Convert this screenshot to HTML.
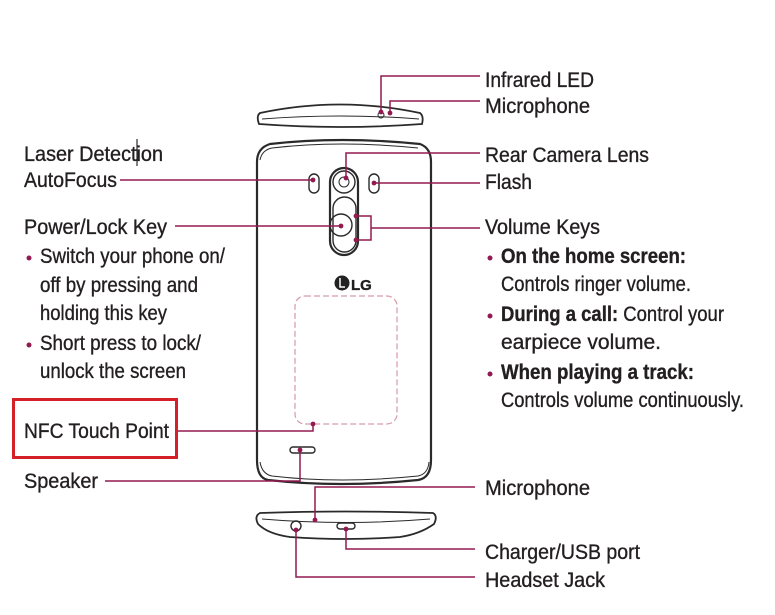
<!DOCTYPE html>
<html><head><meta charset="utf-8"><style>
html,body{margin:0;padding:0;background:#fff;}
svg{display:block;}
text{font-family:"Liberation Sans Narrow","Liberation Sans",sans-serif;fill:#231f20;font-size:21px;stroke:#231f20;stroke-width:0.35;}
.b{font-weight:bold;}
</style></head><body>
<svg width="775" height="615" viewBox="0 0 775 615" xmlns="http://www.w3.org/2000/svg">
<g fill="none" stroke="#2a2a2a" stroke-width="1.8">
<path d="M260 113 Q340 96 420 113 Q424 116 422 124 Q340 130 259 124 Q256 116 260 113 Z"/>
<path d="M262 119 Q340 113 419 119" stroke-width="1"/>
<circle cx="381" cy="115" r="3" stroke-width="1"/>
<path d="M270 144 Q340 136 420 144 Q431 148 431 162 L431 460 Q431 478 418 480 Q340 488 268 480 Q257 478 257 460 L257 162 Q257 148 270 144 Z" stroke-width="2.2"/>
<path d="M260 160 Q262 150 272 148 Q340 140 418 148" stroke-width="1"/>
<path d="M260 462 Q262 474 272 476 Q340 484 418 476 Q428 474 429 462" stroke-width="1"/>
<rect x="309" y="174" width="10" height="19" rx="5" stroke-width="1.4"/>
<rect x="369" y="174" width="10" height="19" rx="5" stroke-width="1.4"/>
<rect x="330" y="168" width="28" height="87" rx="14" stroke-width="2.2"/>
<circle cx="344" cy="182" r="11" stroke-width="1.4"/>
<circle cx="344" cy="182" r="5" stroke-width="1"/>
<rect x="333" y="197" width="23" height="55" rx="11.5" stroke-width="1.4"/>
<circle cx="341" cy="225" r="11" stroke-width="1.4"/>
<rect x="295" y="296" width="102" height="128" rx="10" stroke="#d49aa8" stroke-dasharray="6 3" stroke-width="1.2"/>
<rect x="290" y="447" width="25" height="6" rx="3" stroke-width="1.4"/>
<path d="M260 513 Q345 510 433 513 Q438 516 434 524 Q420 534 400 537 Q345 541 290 537 Q268 534 258 524 Q254 516 260 513 Z"/>
<path d="M262 519 Q345 526 430 519" stroke-width="1"/>
<circle cx="296" cy="526" r="5" stroke-width="1.4"/>
<rect x="337" y="523" width="18" height="6" rx="3" stroke-width="1.4"/>
</g>
<circle cx="342" cy="283" r="7.5" fill="#222"/>
<path d="M340 278 L340 287 L345 287" fill="none" stroke="#fff" stroke-width="1.5"/>
<text x="351" y="290" style="font-family:'Liberation Sans',sans-serif;font-weight:bold;font-size:15px">LG</text>
<g fill="none" stroke="#931a50" stroke-width="1.5">
<polyline points="480,76 381,76 381,112"/>
<polyline points="480,101 390,101 390,113"/>
<polyline points="480,153 346,153 346,180"/>
<polyline points="480,183 374,183"/>
<polyline points="120,180 313,180"/>
<polyline points="175,226 341,226"/>
<polyline points="356,216 371,216 371,240 356,240"/>
<polyline points="371,228 480,228"/>
<polyline points="178,431 313,431 313,424"/>
<polyline points="105,481 300,481 300,450"/>
<polyline points="475,487 315,487 315,520"/>
<polyline points="346,529 346,549 475,549"/>
<polyline points="296,530 296,577 475,577"/>
</g>
<g fill="#931a50">
<circle cx="381" cy="112" r="2.4"/><circle cx="390" cy="113" r="2.4"/>
<circle cx="346" cy="178" r="2.4"/><circle cx="374" cy="183" r="2.4"/>
<circle cx="313" cy="180" r="2.4"/><circle cx="341" cy="226" r="2.4"/>
<circle cx="356" cy="216" r="2.4"/><circle cx="356" cy="240" r="2.4"/>
<circle cx="313" cy="424" r="2.4"/><circle cx="300" cy="450" r="2.4"/>
<circle cx="315" cy="520" r="2.4"/><circle cx="346" cy="529" r="2.4"/><circle cx="296" cy="530" r="2.4"/>
<circle cx="29" cy="258" r="2.5"/><circle cx="29" cy="345" r="2.5"/>
<circle cx="490" cy="258" r="2.5"/><circle cx="490" cy="316" r="2.5"/><circle cx="490" cy="374" r="2.5"/>
</g>
<line x1="137" y1="139" x2="137" y2="166" stroke="#000" stroke-width="1"/>
<rect x="13.5" y="399.5" width="163" height="58" fill="none" stroke="#d42027" stroke-width="3"/>
<text x="24" y="161" textLength="139" lengthAdjust="spacingAndGlyphs">Laser Detection</text>
<text x="24" y="187" textLength="93" lengthAdjust="spacingAndGlyphs">AutoFocus</text>
<text x="24" y="234" textLength="143" lengthAdjust="spacingAndGlyphs">Power/Lock Key</text>
<text x="40" y="263" textLength="185" lengthAdjust="spacingAndGlyphs">Switch your phone on/</text>
<text x="40" y="292" textLength="158" lengthAdjust="spacingAndGlyphs">off by pressing and</text>
<text x="40" y="320" textLength="127" lengthAdjust="spacingAndGlyphs">holding this key</text>
<text x="40" y="350" textLength="161" lengthAdjust="spacingAndGlyphs">Short press to lock/</text>
<text x="40" y="378" textLength="146" lengthAdjust="spacingAndGlyphs">unlock the screen</text>
<text x="24" y="438" textLength="145" lengthAdjust="spacingAndGlyphs">NFC Touch Point</text>
<text x="24" y="488" textLength="74" lengthAdjust="spacingAndGlyphs">Speaker</text>
<text x="485" y="87" textLength="109" lengthAdjust="spacingAndGlyphs">Infrared LED</text>
<text x="485" y="113" textLength="105" lengthAdjust="spacingAndGlyphs">Microphone</text>
<text x="485" y="162" textLength="164" lengthAdjust="spacingAndGlyphs">Rear Camera Lens</text>
<text x="485" y="189" textLength="47" lengthAdjust="spacingAndGlyphs">Flash</text>
<text x="485" y="234" textLength="115" lengthAdjust="spacingAndGlyphs">Volume Keys</text>
<text x="501" y="263" textLength="185" lengthAdjust="spacingAndGlyphs" class="b">On the home screen:</text>
<text x="501" y="291" textLength="190" lengthAdjust="spacingAndGlyphs">Controls ringer volume.</text>
<text x="501" y="321" textLength="223" lengthAdjust="spacingAndGlyphs"><tspan class="b">During a call:</tspan> Control your</text>
<text x="501" y="349" textLength="160" lengthAdjust="spacingAndGlyphs">earpiece volume.</text>
<text x="501" y="379" textLength="193" lengthAdjust="spacingAndGlyphs" class="b">When playing a track:</text>
<text x="501" y="407" textLength="243" lengthAdjust="spacingAndGlyphs">Controls volume continuously.</text>
<text x="485" y="495" textLength="105" lengthAdjust="spacingAndGlyphs">Microphone</text>
<text x="485" y="559" textLength="155" lengthAdjust="spacingAndGlyphs">Charger/USB port</text>
<text x="485" y="587" textLength="120" lengthAdjust="spacingAndGlyphs">Headset Jack</text>
</svg>
</body></html>
